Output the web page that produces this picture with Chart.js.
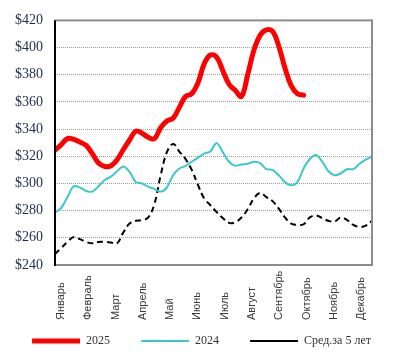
<!DOCTYPE html>
<html>
<head>
<meta charset="utf-8">
<script src="https://cdn.jsdelivr.net/npm/chart.js@4.4.1/dist/chart.umd.min.js"></script>
<style>
html,body{margin:0;padding:0;background:#fff;}
#wrap{width:403px;height:357px;}
</style>
</head>
<body>
<div id="wrap"><canvas id="c" width="403" height="357"></canvas></div>
<script>
// ---- data ----
const months = ["Январь","Февраль","Март","Апрель","Май","Июнь","Июль","Август","Сентябрь","Октябрь","Ноябрь","Декабрь"];
const seriesLabels = ["2025","2024","Сред.за 5 лет"];
const yTicks = [240,260,280,300,320,340,360,380,400,420];
const values2025 = [324.5,328.5,333,332.5,330.5,328,322,315,312.5,313,317.5,325,332,338.5,337,334,333,341,346,348,356,364,366,374,388,394.5,393,383,373,368.5,364,380,398,409,413,412,401,385,372,366,365];
const values2024 = [278.5,282,290,298,297,294.5,294,298,302.5,305,309,312.5,308.5,301,300,297.5,296,294,297,306,311,313,316,319,322,323.5,329.8,323,316,313,314,314.5,316,315,310.5,310,306,301,298.7,301,311,318,321,316,309,306,307.5,310.5,310.5,314.5,317.5,320];
const valuesAvg5 = [248,252.5,257,260.5,259,257,256,257,257,256.5,256,264,270.5,272.5,273,275,285,306,323,329,323.5,318,310,299,289,284,279,274.5,271,271.5,275,281,289,293,290,287,281.5,275,270.5,269.5,270,275,276.5,274.5,272.5,272,275,273,269.5,268,269,272.5];

const toPts = arr => arr.map((v,i)=>({x:i,y:v}));

const frame = {
  id:'frame',
  afterDatasetsDraw(chart){
    const {ctx, chartArea:a} = chart;
    ctx.save();
    ctx.strokeStyle = '#8c8c8c';
    ctx.lineWidth = 2;
    ctx.strokeRect(a.left, a.top, a.right-a.left, a.bottom-a.top);
    ctx.strokeStyle = '#000';
    ctx.beginPath(); ctx.moveTo(a.left, a.top); ctx.lineTo(a.left, a.bottom+1); ctx.stroke();
    ctx.restore();
  },
  afterDraw(chart){
    const {ctx} = chart;
    const xs = chart.scales.x;
    ctx.save();
    ctx.fillStyle = '#3a3a3a';
    ctx.font = '11px "Liberation Sans", Arial, sans-serif';
    ctx.textAlign = 'left';
    ctx.textBaseline = 'middle';
    months.forEach((m,i)=>{
      const px = xs.getPixelForValue(0.95 + i*4.39);
      ctx.save();
      ctx.translate(px, 320);
      ctx.rotate(-Math.PI/2);
      ctx.fillText(m, 0, 0);
      ctx.restore();
    });
    ctx.restore();
  }
};

new Chart(document.getElementById('c'), {
  type:'line',
  data:{
    datasets:[
      {label:seriesLabels[0], data:toPts(values2025), borderColor:'#ff0000', backgroundColor:'#ff0000', borderWidth:5, borderCapStyle:'round', borderJoinStyle:'round', tension:0.4, pointRadius:0, fill:false},
      {label:seriesLabels[1], data:toPts(values2024), borderColor:'#3cc8c8', backgroundColor:'#3cc8c8', borderWidth:2, tension:0.3, pointRadius:0, fill:false},
      {label:seriesLabels[2], data:toPts(valuesAvg5), borderColor:'#000000', backgroundColor:'#000000', borderWidth:2, borderDash:[6,4], tension:0.4, pointRadius:0, fill:false}
    ]
  },
  options:{
    responsive:false,
    animation:false,
    devicePixelRatio:1,
    layout:{padding:{top:20,left:0,right:0,bottom:0}},
    plugins:{
      legend:{
        position:'bottom',
        align:'center',
        labels:{
          usePointStyle:true,
          pointStyle:'line',
          pointStyleWidth:48,
          padding:31,
          color:'#333',
          font:{family:'"Liberation Serif", "Times New Roman", serif', size:12}
        }
      },
      tooltip:{enabled:false}
    },
    scales:{
      x:{
        type:'linear', min:0, max:51,
        grid:{display:false, drawTicks:false},
        border:{display:false},
        ticks:{display:false},
        afterFit(s){ s.height = 39; }
      },
      y:{
        position:'left',
        min:240, max:420,
        afterBuildTicks(s){ s.ticks = yTicks.map(v=>({value:v})); },
        grid:{color:'#9a9a9a', lineWidth:1, drawTicks:false},
        border:{display:false, dash:[1,1]},
        ticks:{
          padding:12,
          color:'#1f2d4a',
          font:{family:'"Liberation Serif", "Times New Roman", serif', size:14},
          callback:v=>'$'+v
        },
        afterFit(s){ s.width = 55; }
      },
      y2:{
        position:'right',
        display:true,
        grid:{display:false, drawTicks:false},
        border:{display:false},
        ticks:{display:false},
        afterFit(s){ s.width = 31; }
      }
    }
  },
  plugins:[frame]
});
</script>
</body>
</html>
